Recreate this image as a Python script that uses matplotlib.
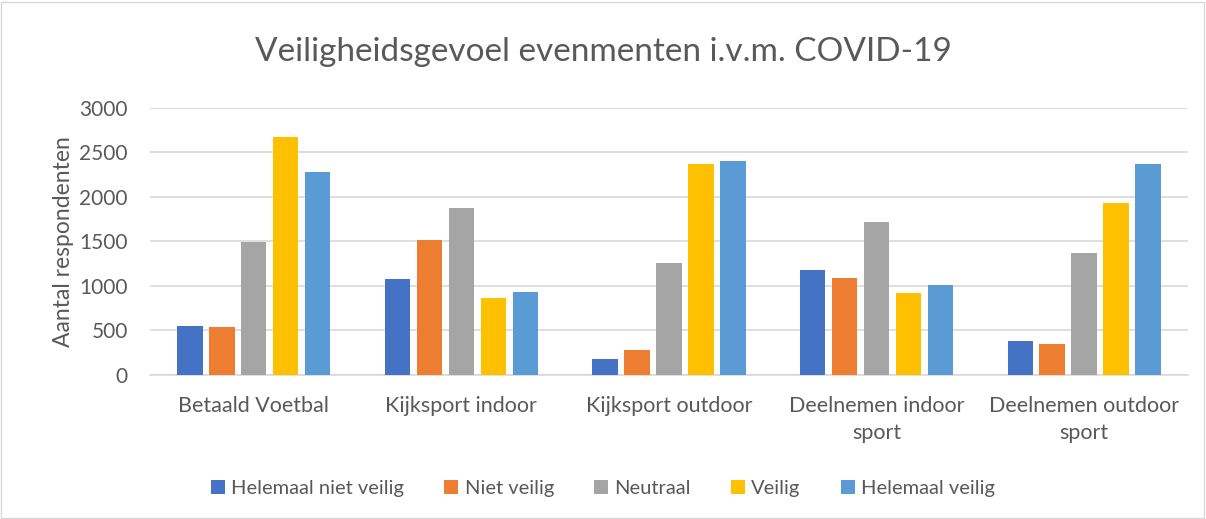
import numpy as np
import matplotlib.pyplot as plt
from matplotlib.patches import Rectangle

plt.rcParams['font.family'] = ['Lato', 'DejaVu Sans']

categories = ['Betaald Voetbal', 'Kijksport indoor', 'Kijksport outdoor',
              'Deelnemen indoor\nsport', 'Deelnemen outdoor\nsport']
series = ['Helemaal niet veilig', 'Niet veilig', 'Neutraal', 'Veilig', 'Helemaal veilig']
helemaal_niet_veilig = [545, 1078, 183, 1179, 377]
niet_veilig = [541, 1519, 280, 1090, 351]
neutraal = [1493, 1877, 1261, 1716, 1369]
veilig = [2675, 862, 2369, 925, 1933]
helemaal_veilig = [2276, 937, 2403, 1015, 2366]
values = [helemaal_niet_veilig, niet_veilig, neutraal, veilig, helemaal_veilig]
colors = ['#4472C4', '#ED7D31', '#A5A5A5', '#FFC000', '#5B9BD5']
yticks = [0, 500, 1000, 1500, 2000, 2500, 3000]

text_color = '#595959'

fig = plt.figure(figsize=(12.06, 5.19), dpi=100)
ax = fig.add_axes([0.1244, 0.2775, 0.8606, 0.5145])

x = np.arange(len(categories))
pitch = 0.154
width = 0.122
for i, (name, vals, c) in enumerate(zip(series, values, colors)):
    ax.bar(x + (i - 2) * pitch, vals, width, color=c, label=name, zorder=3)

ax.set_xlim(-0.5, len(categories) - 0.5)
ax.set_ylim(0, 3000)
ax.set_yticks(yticks)
ax.set_xticks(x)
ax.set_xticklabels(categories, fontsize=15.5, color=text_color, linespacing=1.45)
ax.tick_params(axis='y', labelsize=15, colors=text_color, length=0, pad=16)
ax.tick_params(axis='x', length=0, pad=15)
ax.grid(axis='y', color='#D9D9D9', linewidth=1.2, zorder=0)
for s in ['top', 'right', 'left']:
    ax.spines[s].set_visible(False)
ax.spines['bottom'].set_color('#D9D9D9')
ax.spines['bottom'].set_linewidth(1.2)

ax.set_ylabel('Aantal respondenten', fontsize=16.5, color=text_color, labelpad=4)
fig.suptitle('Veiligheidsgevoel evenmenten i.v.m. COVID-19', fontsize=24,
             color=text_color, y=0.928)

fig.legend(loc='center', bbox_to_anchor=(0.5, 0.058), ncol=5, frameon=False,
           fontsize=14.5, handlelength=0.7, handleheight=0.7, handletextpad=0.3,
           columnspacing=2.0, labelcolor=text_color)

fig.patches.append(Rectangle((0.001, 0.002), 0.997, 0.995, transform=fig.transFigure,
                             fill=False, edgecolor='#D9D9D9', linewidth=1))

plt.savefig('out.png', dpi=100)
